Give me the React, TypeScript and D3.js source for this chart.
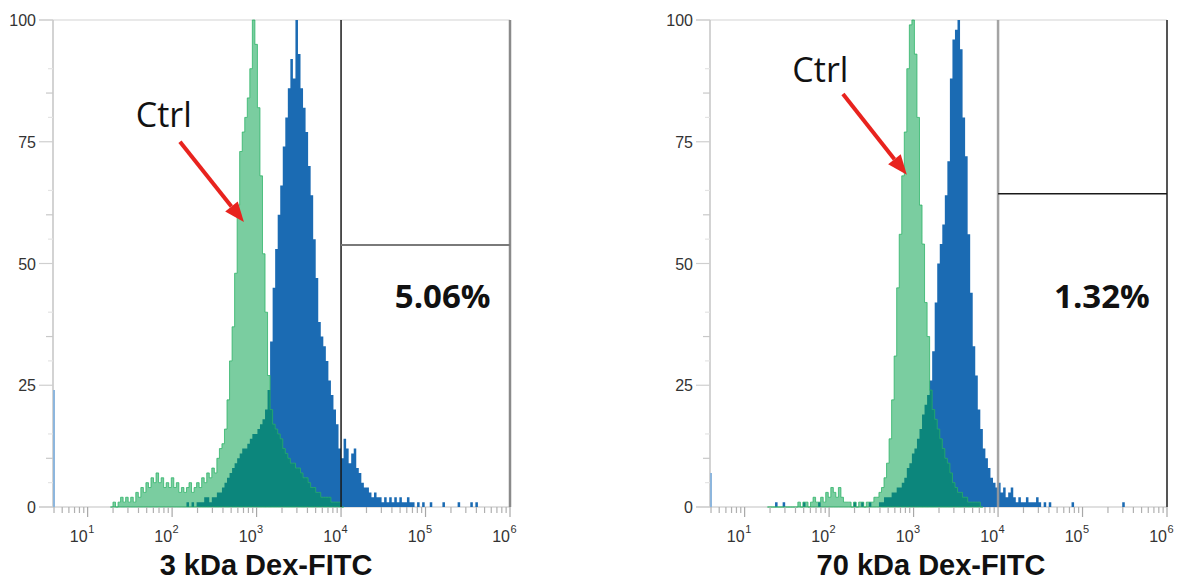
import React from 'react';
import * as d3 from 'd3';

// histogram bins: log10 channel of bin 0 and bin width (log units)
const BIN_START = 1.27;
const BIN_STEP = 0.03;

// % of max, 3 kDa panel
const ctrl3kDa = [
  0, 1, 0, 1, 2, 1, 2, 1, 2, 1,
  3, 2, 4, 3, 5, 4, 6, 5, 7, 5,
  6, 4, 5, 4, 6, 4, 5, 3, 4, 3,
  4, 5, 3, 4, 5, 4, 6, 5, 7, 6,
  8, 7, 10, 12, 13, 16, 22, 30, 37, 48,
  62, 73, 77, 80, 84, 90, 100, 95, 82, 68,
  52, 40, 27, 20, 17, 16, 15, 14, 12, 11,
  10, 9, 9, 8, 8, 7, 6, 6, 5, 4,
  4, 3, 3, 2, 2, 2, 2, 1, 1, 1,
  1, 0,
];
const dex3kDa = [
  0, 0, 0, 0, 0, 0, 0, 0, 0, 0,
  0, 0, 0, 0, 0, 0, 0, 0, 0, 0,
  0, 0, 0, 0, 0, 0, 0, 0, 0, 0,
  1, 0, 1, 0, 1, 1, 1, 2, 2, 1,
  2, 2, 3, 3, 4, 5, 6, 7, 8, 9,
  10, 11, 12, 12, 13, 14, 15, 15, 16, 17,
  18, 20, 24, 34, 45, 53, 60, 66, 74, 80,
  86, 92, 88, 100, 93, 86, 82, 77, 70, 64,
  55, 47, 38, 35, 33, 30, 26, 23, 20, 17,
  12, 10, 14, 12, 9, 11, 12, 8, 7, 5,
  4, 4, 3, 2, 3, 2, 2, 1, 2, 1,
  2, 1, 2, 1, 2, 1, 1, 2, 1, 1,
  0, 1, 0, 1, 0, 0, 1, 0, 0, 0,
  0, 1, 0, 0, 0, 0, 0, 1, 0, 0,
  0, 0, 1, 0, 1,
];

// % of max, 70 kDa panel
const ctrl70kDa = [
  0, 0, 0, 0, 0, 0, 0, 0, 0, 0,
  0, 0, 1, 0, 1, 1, 0, 1, 2, 1,
  1, 2, 1, 3, 2, 4, 3, 2, 4, 2,
  1, 1, 1, 0, 1, 0, 1, 1, 0, 1,
  1, 1, 2, 2, 3, 4, 6, 9, 14, 22,
  31, 45, 56, 68, 77, 90, 99, 100, 93, 80,
  62, 54, 42, 35, 24, 20, 18, 16, 14, 12,
  10, 9, 7, 5, 4, 3, 3, 2, 2, 1,
  1, 1, 1, 1, 0,
];
const dex70kDa = [
  0, 0, 0, 1, 0, 0, 1, 0, 0, 0,
  0, 0, 0, 0, 1, 0, 0, 0, 0, 0,
  1, 0, 0, 0, 0, 0, 0, 0, 0, 0,
  0, 0, 0, 0, 1, 0, 0, 1, 0, 0,
  1, 0, 0, 0, 1, 1, 2, 2, 2, 3,
  3, 4, 4, 5, 6, 8, 9, 11, 12, 14,
  16, 19, 21, 23, 26, 32, 42, 50, 54, 58,
  64, 71, 88, 96, 98, 100, 94, 80, 72, 56,
  44, 33, 27, 20, 16, 12, 10, 8, 6, 5,
  4, 5, 3, 4, 2, 3, 4, 2, 1, 2,
  1, 1, 2, 1, 1, 1, 2, 1, 0, 1,
  0, 1, 0, 0, 0, 0, 0, 0, 0, 0,
  1, 0, 0, 0, 0, 0, 0, 0, 0, 0,
  0, 0, 0, 0, 0, 0, 0, 0, 0, 0,
  1,
];

const titles = ['3 kDa Dex-FITC', '70 kDa Dex-FITC'];
const gatePercents = ['5.06%', '1.32%'];
const gateLevels = [53.8, 64.3]; // horizontal gate line, % of max
const offscaleLow = [24, 7]; // events piled on the axis
const yTicks = [0, 25, 50, 75, 100];
const decades = [1, 2, 3, 4, 5, 6];

const LOG_MIN = 0.59;
const LOG_MAX = 6;
const GATE_LOG = 4;

// annotation anchors in data units [log10 channel, % of max]
const ctrlLabelAt = [[1.57, 78], [1.565, 87.3]];
const arrowFrom = [[2.093, 75], [2.164, 84.8]];
const arrowTo = [[2.85, 58.5], [2.92, 68.2]];
const pctAt = [[5.77, 40.9], [5.797, 40.9]];

const PANEL_LEFT = [53, 710];
const PANEL_W = 457;
const TOP = 20;
const BOTTOM = 507;

const BLUE = '#1b6bb3';
const GREEN = 'rgb(0,160,72)';

function Histogram({ values, x, y, fill, opacity, stroke }) {
  const pts = values.map((v, i) => ({ c: BIN_START + i * BIN_STEP, v }));
  pts.push({ c: BIN_START + values.length * BIN_STEP, v: 0 });
  const area = d3
    .area<{ c: number; v: number }>()
    .x((d) => x(Math.pow(10, d.c)))
    .y0(y(0))
    .y1((d) => y(d.v))
    .curve(d3.curveStepAfter);
  return (
    <path
      d={area(pts) || ''}
      fill={fill}
      fillOpacity={opacity}
      stroke={stroke || 'none'}
      strokeWidth={1}
      strokeOpacity={0.75}
    />
  );
}

function Panel({ idx }) {
  const left = PANEL_LEFT[idx];
  const right = left + PANEL_W;
  const x = d3.scaleLog().domain([Math.pow(10, LOG_MIN), Math.pow(10, LOG_MAX)]).range([left, right]);
  const y = d3.scaleLinear().domain([0, 100]).range([BOTTOM, TOP]);
  const ctrl = idx === 0 ? ctrl3kDa : ctrl70kDa;
  const sample = idx === 0 ? dex3kDa : dex70kDa;
  const L = (c) => x(Math.pow(10, c));

  const minor = [];
  decades.forEach((d) => {
    for (let k = 2; k <= 9; k++) {
      const v = k * Math.pow(10, d - 1);
      if (Math.log10(v) > LOG_MIN) minor.push(v);
    }
  });

  const yMinor = [];
  yTicks.slice(0, -1).forEach((t) => {
    yMinor.push({ v: t + 5, long: false });
    yMinor.push({ v: t + 10, long: true });
    yMinor.push({ v: t + 15, long: false });
  });

  // arrow geometry
  const ax0 = L(arrowFrom[idx][0]);
  const ay0 = y(arrowFrom[idx][1]);
  const ax1 = L(arrowTo[idx][0]);
  const ay1 = y(arrowTo[idx][1]);
  const ang = Math.atan2(ay1 - ay0, ax1 - ax0);
  const headLen = 20;
  const headW = 8;
  const bx = ax1 - headLen * Math.cos(ang);
  const by = ay1 - headLen * Math.sin(ang);
  const head = [
    [ax1, ay1],
    [bx + headW * Math.sin(ang), by - headW * Math.cos(ang)],
    [bx - headW * Math.sin(ang), by + headW * Math.cos(ang)],
  ];

  const gateX = x(Math.pow(10, GATE_LOG));
  const edgeX = x(Math.pow(10, LOG_MAX));

  return (
    <g>
      {/* frame lines */}
      <line x1={left - 14} x2={right} y1={y(100)} y2={y(100)} stroke="#e2e2e2" strokeWidth={1.5} />
      <line x1={left - 14} x2={right} y1={y(0)} y2={y(0)} stroke="#d6d6d6" strokeWidth={1.5} />
      <line x1={left} x2={left} y1={y(100)} y2={y(0)} stroke="#c4c4c4" strokeWidth={1.5} />

      {/* y axis */}
      {yTicks.map((t) => (
        <g key={t}>
          <line x1={left - 14} x2={left} y1={y(t)} y2={y(t)} stroke="#cfcfcf" strokeWidth={1.2} />
          <text
            x={left - 17}
            y={y(t) + 6}
            textAnchor="end"
            fontFamily="'Liberation Sans', Arial, sans-serif"
            fontSize={16}
            fill="#333"
          >
            {t}
          </text>
        </g>
      ))}
      {yMinor.map((m) => (
        <line
          key={m.v}
          x1={left - (m.long ? 7 : 5)}
          x2={left}
          y1={y(m.v)}
          y2={y(m.v)}
          stroke={m.long ? '#c8c8c8' : '#e4e4e4'}
          strokeWidth={1.2}
        />
      ))}

      {/* histograms */}
      <line
        x1={left + 1}
        x2={left + 1}
        y1={y(0)}
        y2={y(offscaleLow[idx])}
        stroke="#8db6dd"
        strokeWidth={2}
      />
      <Histogram values={sample} x={x} y={y} fill={BLUE} opacity={1} />
      <Histogram values={ctrl} x={x} y={y} fill={GREEN} opacity={0.52} stroke="rgb(40,178,100)" />

      {/* x axis */}
      {minor.map((v) => (
        <line key={v} x1={x(v)} x2={x(v)} y1={y(0)} y2={y(0) + 6} stroke="#b0b0b0" strokeWidth={1.2} />
      ))}
      {decades.map((d) => {
        const tx = x(Math.pow(10, d));
        return (
          <g key={d} fontFamily="'Liberation Sans', Arial, sans-serif" fill="#333">
            <line x1={tx} x2={tx} y1={y(0)} y2={y(0) + 10} stroke="#a8a8a8" strokeWidth={1.2} />
            <text x={tx} y={542} textAnchor="end" fontSize={16}>
              10
            </text>
            <text x={tx + 0.5} y={533} fontSize={11}>
              {d}
            </text>
          </g>
        );
      })}

      {/* gate */}
      {idx === 0 ? (
        <g>
          <line x1={gateX} x2={gateX} y1={y(100)} y2={y(0)} stroke="#1a1a1a" strokeWidth={1.5} />
          <line x1={edgeX} x2={edgeX} y1={y(100)} y2={y(0)} stroke="#8a8a8a" strokeWidth={2.5} />
          <line x1={gateX} x2={edgeX} y1={y(gateLevels[idx])} y2={y(gateLevels[idx])} stroke="#7a7a7a" strokeWidth={2} />
        </g>
      ) : (
        <g>
          <line x1={gateX} x2={gateX} y1={y(100)} y2={y(0)} stroke="#9a9a9a" strokeWidth={2.5} strokeOpacity={0.9} />
          <line x1={edgeX} x2={edgeX} y1={y(100)} y2={y(0)} stroke="#555" strokeWidth={2} />
          <line x1={gateX} x2={edgeX} y1={y(gateLevels[idx])} y2={y(gateLevels[idx])} stroke="#1a1a1a" strokeWidth={1.5} />
        </g>
      )}
      <text
        x={L(pctAt[idx][0])}
        y={y(pctAt[idx][1])}
        textAnchor="end"
        fontFamily="'Open Sans', sans-serif"
        fontWeight="bold"
        fontSize={33}
        fill="#111"
      >
        {gatePercents[idx]}
      </text>

      {/* Ctrl annotation */}
      <text
        x={L(ctrlLabelAt[idx][0])}
        y={y(ctrlLabelAt[idx][1])}
        fontFamily="'Open Sans', sans-serif"
        fontSize={34}
        fill="#111"
      >
        Ctrl
      </text>
      <line x1={ax0} y1={ay0} x2={bx} y2={by} stroke="#e8231e" strokeWidth={4} />
      <polygon points={head.map((p) => p.join(',')).join(' ')} fill="#e8231e" />

      {/* axis title */}
      <text
        x={idx === 0 ? 266 : 931}
        y={575}
        textAnchor="middle"
        fontFamily="'Liberation Sans', Arial, sans-serif"
        fontWeight="bold"
        fontSize={29}
        fill="#111"
      >
        {titles[idx]}
      </text>
    </g>
  );
}

export default function App() {
  return (
    <div style={{ position: 'absolute', left: 0, top: 0 }}>
      <svg width={1180} height={586} style={{ display: 'block', background: '#fff' }}>
        <Panel idx={0} />
        <Panel idx={1} />
      </svg>
    </div>
  );
}
